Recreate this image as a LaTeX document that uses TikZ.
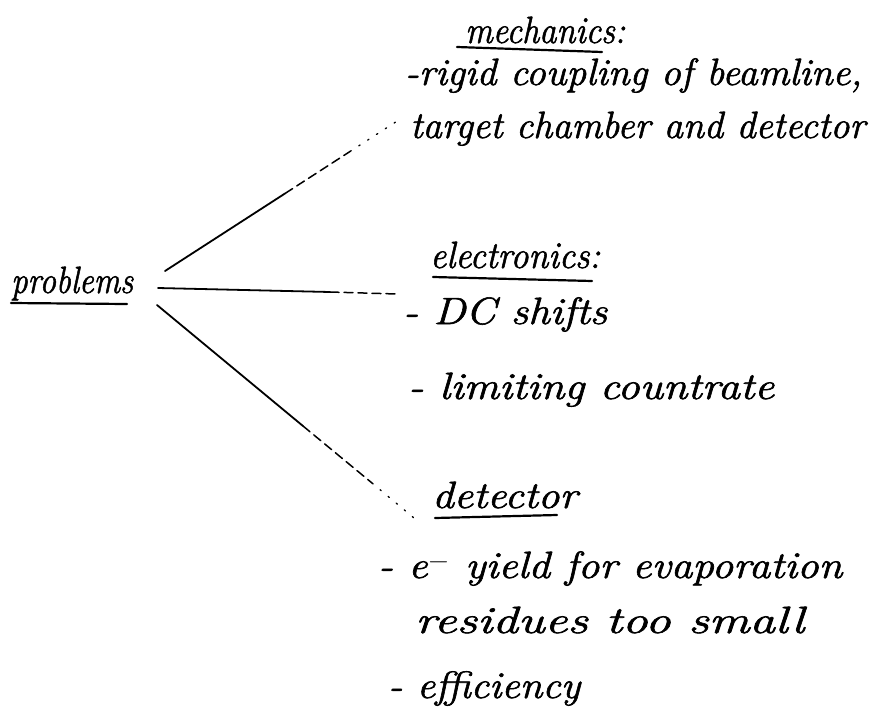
\documentclass[tikz,border=0pt]{standalone}
\usepackage{fontspec}
\setmainfont{Latin Modern Roman}[ItalicFeatures={FakeBold=1.5}]
\usepackage{graphicx}
\newcommand\hwtext[2]{\resizebox{#1pt}{\height}{\itshape #2}}
\tikzset{
  hw/.style={anchor=base west, inner sep=0pt, font=\fontsize{38}{44}\selectfont},
  ul/.style={line width=2.2pt, line cap=round},
  conn/.style={line width=1.8pt, line cap=round},
  connfade/.style={line width=1.5pt, line cap=round, dash pattern=on 9pt off 5pt},
  conndot/.style={line width=1.3pt, line cap=round, dash pattern=on 1.5pt off 9pt}
}
\begin{document}
\begin{tikzpicture}[x=1pt,y=-1pt]
\fill[white] (0,0) rectangle (874,712);
\useasboundingbox (0,0) rectangle (874,712);
\begin{scope}
\clip (0,0) rectangle (874,712);
% root
\node[hw] (prob) at (11,293) {\hwtext{122}{problems}};
\draw[ul] (11,303) -- (127,304);
% mechanics
\node[hw] (mech) at (465,43) {\hwtext{160}{mechanics:}};
\draw[ul] (457,47) -- (602,52);
\node[hw] (m1) at (405,85) {\hwtext{457}{-rigid coupling of beamline,}};
\node[hw] (m2) at (410,138) {\hwtext{455}{target chamber and detector}};
% electronics
\node[hw] (elec) at (430,268) {\hwtext{170}{electronics:}};
\draw[ul] (433,277) -- (592,281);
\node[hw] (e1) at (403,324) {\hwtext{204}{- DC shifts}};
\node[hw] (e2) at (408,399) {\hwtext{366}{- limiting countrate}};
% detector
\node[hw] (det) at (432,508) {\hwtext{145}{detector}};
\draw[ul] (435,518) -- (557,515);
\node[hw] (d1) at (378,578) {\hwtext{464}{- e$^{-}$ yield for evaporation}};
\node[hw] (d2) at (415,633) {\hwtext{389}{residues too small}};
\node[hw] (d3) at (388,698) {\hwtext{192}{- efficiency}};
\end{scope}
% connectors
\coordinate (tA) at (165,271);
\coordinate (tB) at (285,193.5);
\coordinate (tC) at (350,151.5);
\coordinate (tD) at (398,120.5);
\draw[conn] (tA) -- (tB);
\draw[connfade] (tB) -- (tC);
\draw[conndot] (tC) -- (tD);
\coordinate (mA) at (158,288);
\coordinate (mB) at (330,292);
\coordinate (mC) at (397,294);
\draw[conn] (mA) -- (mB);
\draw[connfade] (mB) -- (mC);
\coordinate (bA) at (157,305);
\coordinate (bB) at (303,426);
\coordinate (bC) at (372,483);
\coordinate (bD) at (420,523);
\draw[conn] (bA) -- (bB);
\draw[connfade] (bB) -- (bC);
\draw[conndot] (bC) -- (bD);
\end{tikzpicture}
\end{document}
